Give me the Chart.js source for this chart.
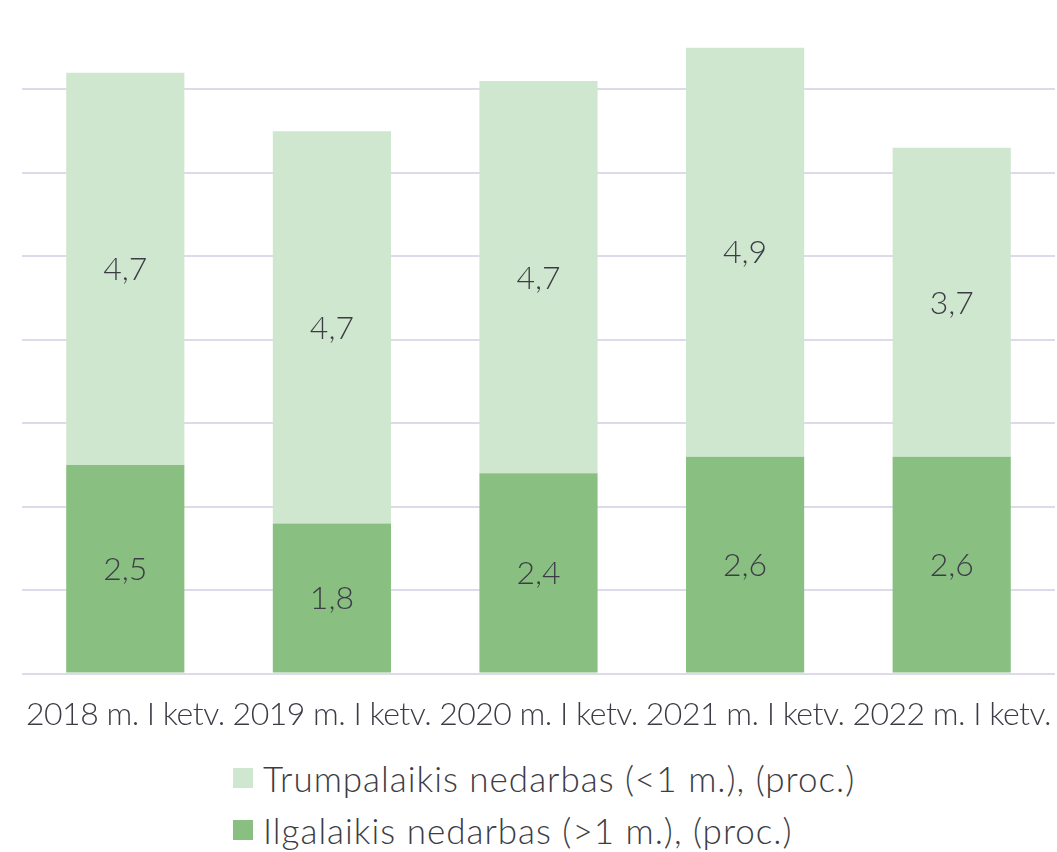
<!DOCTYPE html>
<html>
<head>
<meta charset="utf-8">
<script src="https://cdn.jsdelivr.net/npm/chart.js@4"></script>
<style>
  html, body { margin: 0; padding: 0; background: #fff; }
  body { width: 1057px; height: 852px; overflow: hidden; position: relative; font-family: Lato, sans-serif; font-weight: 300; }
  #wrap { position: relative; width: 1057px; height: 748px; }
  #legend { position: absolute; left: 233px; top: 752px; color: #3c3c46; font-size: 35px; letter-spacing: 1px; }
  #legend div { display: flex; align-items: center; height: 52px; white-space: nowrap; }
  #legend span.box { display: inline-block; width: 20px; height: 20px; margin-right: 10px; flex: none; }
</style>
</head>
<body>
<div id="wrap"><canvas id="chart"></canvas></div>
<div id="legend"></div>
<script>
// Nedarbo struktūra — stacked bars, short vs long term unemployment

const CATEGORIES = ['2018 m. I ketv.', '2019 m. I ketv.', '2020 m. I ketv.', '2021 m. I ketv.', '2022 m. I ketv.'];
const LONG_TERM = [2.5, 1.8, 2.4, 2.6, 2.6];
const SHORT_TERM = [4.7, 4.7, 4.7, 4.9, 3.7];

const COLORS = {
  long: '#89c081',
  short: '#d0e7cf',
  grid: '#dddbe9',
  text: '#3c3c46',
};

const FONT = 'Lato, "Open Sans", sans-serif';

// draw value labels in the middle of each bar segment
const barLabels = {
  id: 'barLabels',
  afterDatasetsDraw(chart) {
    const ctx = chart.ctx;
    ctx.save();
    ctx.letterSpacing = '0px';
    ctx.font = `300 32px ${FONT}`;
    ctx.fillStyle = COLORS.text;
    ctx.textAlign = 'center';
    ctx.textBaseline = 'middle';
    chart.data.datasets.forEach((ds, i) => {
      chart.getDatasetMeta(i).data.forEach((bar, j) => {
        const v = ds.data[j];
        const y = (bar.y + bar.base) / 2 + 1;
        ctx.fillText(v.toFixed(1).replace('.', ','), bar.x, y);
      });
    });
    ctx.restore();
  },
};

// tighter spacing for the category labels
const tickSpacing = {
  id: 'tickSpacing',
  beforeUpdate(chart) { chart.ctx.letterSpacing = '-0.5px'; },
  beforeDraw(chart) { chart.ctx.letterSpacing = '-0.5px'; },
};

const datasets = [
  { label: 'Ilgalaikis nedarbas (>1 m.), (proc.)', data: LONG_TERM, backgroundColor: COLORS.long },
  { label: 'Trumpalaikis nedarbas (<1 m.), (proc.)', data: SHORT_TERM, backgroundColor: COLORS.short },
];

new Chart(document.getElementById('chart'), {
  type: 'bar',
  data: {
    labels: CATEGORIES,
    datasets: datasets.map(d => ({
      ...d,
      borderWidth: 0,
      categoryPercentage: 1,
      barPercentage: 0.572,
    })),
  },
  options: {
    responsive: true,
    maintainAspectRatio: false,
    animation: false,
    layout: { padding: { left: 22, right: 2, top: 6, bottom: 0 } },
    plugins: {
      legend: { display: false },
      tooltip: { enabled: false },
    },
    scales: {
      x: {
        stacked: true,
        grid: { display: false },
        border: { display: false },
        ticks: {
          color: COLORS.text,
          font: { family: FONT, size: 32, weight: 300 },
          padding: 14,
          maxRotation: 0,
          autoSkip: false,
        },
        // labels may run past the edge bars; keep the plot full width
        afterFit: scale => {
          scale.paddingLeft = 0;
          scale.paddingRight = 0;
        },
      },
      y: {
        stacked: true,
        min: 0,
        max: 8,
        border: { display: false },
        grid: {
          color: ctx => (ctx.tick && ctx.tick.value === 8 ? 'rgba(0,0,0,0)' : COLORS.grid),
          lineWidth: 2,
          drawTicks: false,
        },
        ticks: { display: false, stepSize: 1 },
      },
    },
  },
  plugins: [tickSpacing, barLabels],
});

// legend, listed top series first like the original
const legend = document.getElementById('legend');
[...datasets].reverse().forEach(d => {
  const row = document.createElement('div');
  const box = document.createElement('span');
  box.className = 'box';
  box.style.background = d.backgroundColor;
  row.appendChild(box);
  row.appendChild(document.createTextNode(d.label));
  legend.appendChild(row);
});
</script>
</body>
</html>
